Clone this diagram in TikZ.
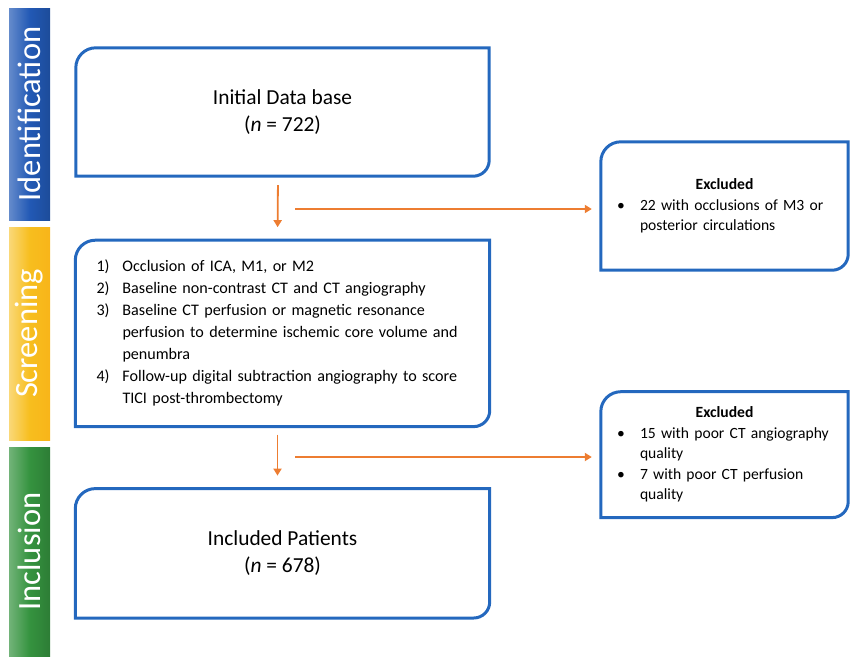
\documentclass[tikz,border=0pt]{standalone}
\usepackage{fontspec}
\setmainfont{Carlito}
\usepackage{xcolor}
\usetikzlibrary{positioning, arrows.meta}
\definecolor{FrameBlue}{HTML}{2468BE}
\definecolor{FlowOrange}{HTML}{ED7D31}
\definecolor{IdBlue}{HTML}{2259B5}
\definecolor{ScrYellow}{HTML}{F7BE1E}
\definecolor{IncGreen}{HTML}{35933F}

\begin{document}
\begin{tikzpicture}[x=1pt, y=-1pt,
    stagelabel/.style={text=white, rotate=90, inner sep=0pt, font=\fontsize{32.5}{32.5}\selectfont},
    bigbox/.style={minimum width=413pt, minimum height=128pt, align=center, font=\fontsize{21.4}{27}\selectfont},
    listbox/.style={text width=372pt, inner xsep=21pt, minimum height=186pt, align=left, font=\fontsize{16.1}{22}\selectfont},
    exclbox/.style={text width=215pt, inner xsep=16pt, minimum height=128pt, align=left, font=\fontsize{15.6}{20.5}\selectfont},
    frame/.style={draw=FrameBlue, line width=3pt},
    flow/.style={-{Triangle[length=7pt, width=8pt]}, FlowOrange, line width=1.8pt}
  ]
  \useasboundingbox (0,0) rectangle (850,656);

  % stage bars on the left
  \shade[left color=IdBlue!70!white, right color=IdBlue!85!black, middle color=IdBlue] (9,8) rectangle (50,220);
  \shade[left color=ScrYellow!60!white, right color=ScrYellow!85!orange, middle color=ScrYellow] (9,227) rectangle (50,440);
  \shade[left color=IncGreen!70!white, right color=IncGreen!85!black, middle color=IncGreen] (9,447) rectangle (50,656);
  \node[stagelabel] (ident) at (29.5,114) {Identification};
  \node[stagelabel] (screen) at (29.5,333.5) {Screening};
  \node[stagelabel] (inclu) at (29.5,551.5) {Inclusion};

  % main column
  \node[bigbox] (db) at (282.5,112) {Initial Data base\\(\textit{n} = 722)};
  \node[listbox, below=64pt of db] (crit) {%
    \makebox[26pt][l]{1)}Occlusion of ICA, M1, or M2\\
    \makebox[26pt][l]{2)}Baseline non-contrast CT and CT angiography\\
    \makebox[26pt][l]{3)}Baseline CT perfusion or magnetic resonance\\
    \hspace*{26pt}perfusion to determine ischemic core volume and\\
    \hspace*{26pt}penumbra\\
    \makebox[26pt][l]{4)}Follow-up digital subtraction angiography to score\\
    \hspace*{26pt}TICI post-thrombectomy};
  \node[bigbox, minimum width=414pt, minimum height=129pt, below=62pt of crit] (incl) {Included Patients\\(\textit{n} = 678)};

  % excluded column
  \node[exclbox] (exclA) at (724.5,206) {%
    \makebox[215pt]{\textbf{Excluded}}\\
    \makebox[23pt][l]{\textbullet}\mbox{22 with occlusions of M3 or}\\
    \hspace*{23pt}posterior circulations};
  \node[exclbox, minimum height=125.5pt, below=121.5pt of exclA] (exclB) {%
    \makebox[215pt]{\textbf{Excluded}}\\
    \makebox[23pt][l]{\textbullet}\mbox{15 with poor CT angiography}\\
    \hspace*{23pt}quality\\
    \makebox[23pt][l]{\textbullet}\mbox{7 with poor CT perfusion}\\
    \hspace*{23pt}quality};

  % frames: round top left and bottom right
  \foreach \n in {db, crit, incl, exclA, exclB}
    \draw[frame] (\n.south west) -- ([yshift=-20pt]\n.north west) arc[start angle=180, end angle=90, radius=20pt]
      -- (\n.north east) -- ([yshift=16pt]\n.south east) arc[start angle=0, end angle=-90, radius=16pt] -- cycle;

  % arrows
  \coordinate (splitA) at (295,209);
  \coordinate (splitB) at (295,457);
  \draw[flow, shorten <=9pt, shorten >=13pt] ([xshift=-4.5pt]db.south) -- ([xshift=-5pt]crit.north);
  \draw[flow, shorten >=9pt] (splitA) -- (splitA -| exclA.west);
  \draw[flow, shorten <=8pt, shorten >=13pt] ([xshift=-5pt]crit.south) -- ([xshift=-5pt]incl.north);
  \draw[flow, shorten >=9pt] (splitB) -- (splitB -| exclB.west);
\end{tikzpicture}
\end{document}
